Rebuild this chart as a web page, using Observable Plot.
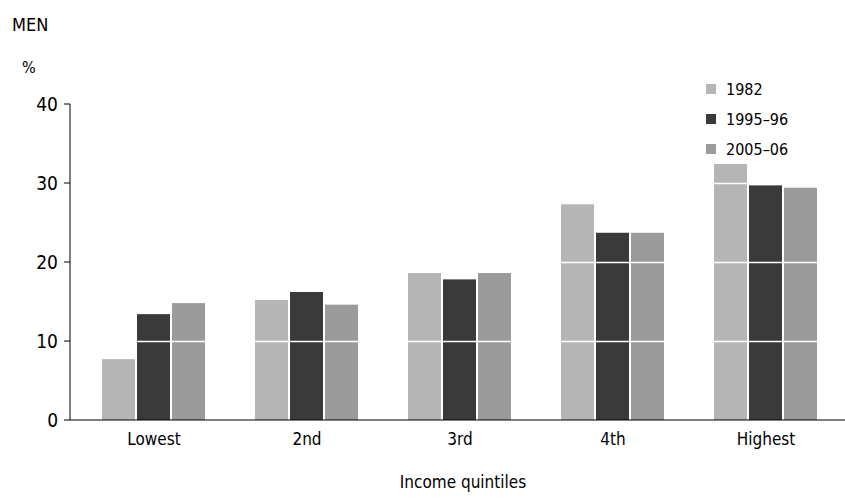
<!DOCTYPE html>
<html><head><meta charset="utf-8">
<script src="https://cdn.jsdelivr.net/npm/d3@7"></script>
<script src="https://cdn.jsdelivr.net/npm/@observablehq/plot@0.6"></script>
<style>
body{margin:0;background:#fff;font-family:"DejaVu Sans Condensed","Liberation Sans",sans-serif;position:relative;width:845px;height:499px;overflow:hidden}
#title{position:absolute;left:12px;top:14px;font-size:18px;color:#000}
#pct{position:absolute;left:22px;top:58px;font-size:16px}
#xlabel{position:absolute;left:0;width:926px;text-align:center;top:472px;font-size:17px}
#chart{position:absolute;left:0;top:45px}
#legend{position:absolute;left:706px;top:74px;font-size:16px}
#legend div{height:30px;display:flex;align-items:center}
#legend span.sw{display:inline-block;width:10px;height:10px;margin-right:10px}
</style></head><body>
<div id="title">MEN</div>
<div id="pct">%</div>
<div id="chart"></div>
<div id="xlabel">Income quintiles</div>
<div id="legend"></div>
<script>
const quintiles = ["Lowest","2nd","3rd","4th","Highest"];
const years = ["1982","1995–96","2005–06"];
const colors = ["#b5b5b5","#3a3a3a","#9b9b9b"];
const yTicks = [0,10,20,30,40];
const v1982 = [7.7,15.2,18.6,27.3,32.4];
const v1995 = [13.4,16.2,17.8,23.7,29.7];
const v2005 = [14.8,14.6,18.6,23.7,29.4];
const series = [v1982,v1995,v2005];
const data = [];
quintiles.forEach((q,i)=>years.forEach((y,j)=>data.push({q,y,v:series[j][i]})));

const chart = Plot.plot({
  width:845, height:454,
  marginLeft:74, marginRight:0, marginTop:59, marginBottom:79,
  style:{fontFamily:"DejaVu Sans Condensed, Liberation Sans, sans-serif",fontSize:"17px",color:"#000"},
  fx:{domain:quintiles,paddingInner:0.29,paddingOuter:0.15,label:null,axis:null},
  x:{domain:years,axis:null,padding:0.05},
  y:{domain:[0,40],label:null,axis:null},
  color:{domain:years,range:colors},
  marks:[
    Plot.barY(data,{fx:"q",x:"y",y:"v",fill:"y"}),
    Plot.ruleY([10,20,30],{stroke:"#fff",strokeWidth:1.5}),
    Plot.axisFx({anchor:"bottom",tickSize:0,fontSize:17,label:null,tickPadding:12})
  ]
});
// y axis at the left edge of the plot area
const ys = chart.scale("y");
const svg = d3.select(chart);
const ax = svg.append("g");
ax.append("line").attr("x1",70).attr("x2",70).attr("y1",ys.apply(40)).attr("y2",ys.apply(0)).attr("stroke","#000");
ax.append("line").attr("x1",70).attr("x2",845).attr("y1",ys.apply(0)).attr("y2",ys.apply(0)).attr("stroke","#000");
yTicks.forEach(t=>{
  ax.append("line").attr("x1",64).attr("x2",70).attr("y1",ys.apply(t)).attr("y2",ys.apply(t)).attr("stroke","#000");
  ax.append("text").attr("x",58).attr("y",ys.apply(t)).attr("dy","0.35em").attr("text-anchor","end")
    .attr("font-size",19).text(t);
});
document.getElementById("chart").append(chart);

const lg = d3.select("#legend");
years.forEach((y,i)=>{
  const d = lg.append("div");
  d.append("span").attr("class","sw").style("background",colors[i]);
  d.append("span").text(y);
});
</script></body></html>
